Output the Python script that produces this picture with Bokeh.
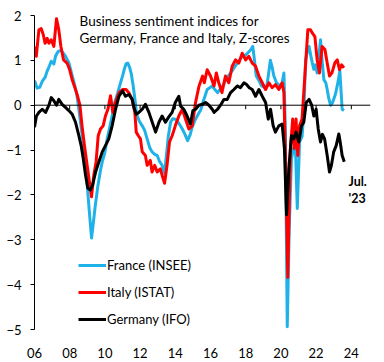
from bokeh.plotting import figure
from bokeh.models import Range1d, FixedTicker, Span, Label, Legend, LegendItem
from bokeh.embed import file_html
from bokeh.resources import INLINE

# ---- data (decimal years, z-scores) ----
fr_x = [2006.0, 2006.15, 2006.3, 2006.45, 2006.6, 2006.72, 2006.85, 2006.95, 2007.1, 2007.2, 2007.35, 2007.5,
        2007.6, 2007.75, 2007.95, 2008.1, 2008.25, 2008.4, 2008.52, 2008.62, 2008.72, 2008.85, 2008.95, 2009.1,
        2009.24, 2009.35, 2009.45, 2009.6, 2009.75, 2009.85, 2010.0, 2010.13, 2010.27, 2010.41, 2010.55, 2010.73,
        2010.85, 2011.0, 2011.1, 2011.2, 2011.3, 2011.4, 2011.5, 2011.6, 2011.7, 2011.8, 2011.95, 2012.12,
        2012.25, 2012.4, 2012.55, 2012.68, 2012.85, 2012.97, 2013.1, 2013.25, 2013.39, 2013.5, 2013.6, 2013.73,
        2013.85, 2014.0, 2014.2, 2014.4, 2014.55, 2014.7, 2014.85, 2014.95, 2015.1, 2015.3, 2015.45, 2015.6,
        2015.81, 2016.0, 2016.1, 2016.25, 2016.4, 2016.55, 2016.7, 2016.85, 2017.0, 2017.2, 2017.4, 2017.6,
        2017.8, 2018.0, 2018.1, 2018.25, 2018.4, 2018.5, 2018.6, 2018.75, 2018.9, 2019.05, 2019.2, 2019.3,
        2019.4, 2019.5, 2019.6, 2019.75, 2019.95, 2020.05, 2020.17, 2020.25, 2020.36, 2020.47, 2020.6, 2020.72,
        2020.83, 2020.93, 2021.06, 2021.2, 2021.3, 2021.4, 2021.5, 2021.6, 2021.7, 2021.78, 2021.87, 2021.95,
        2022.06, 2022.15, 2022.25, 2022.35, 2022.44, 2022.55, 2022.63, 2022.72, 2022.82, 2022.92, 2023.0, 2023.1,
        2023.2, 2023.28, 2023.35, 2023.42, 2023.48, 2023.58]
fr_y = [0.55, 0.38, 0.40, 0.54, 0.62, 0.76, 0.88, 0.98, 0.92, 1.10, 1.20, 1.22,
        1.18, 1.10, 0.95, 0.72, 0.50, 0.25, -0.09, -0.40, -0.70, -1.10, -1.55, -2.30,
        -2.96, -2.60, -2.25, -1.80, -1.45, -1.26, -1.05, -0.75, -0.50, -0.24, 0.05, 0.28,
        0.45, 0.65, 0.80, 0.92, 0.94, 0.85, 0.70, 0.45, 0.15, -0.20, -0.35, -0.46,
        -0.55, -0.75, -0.95, -1.04, -1.10, -1.12, -1.25, -1.34, -1.52, -1.10, -0.70, -0.38,
        -0.30, -0.31, -0.40, -0.53, -0.65, -0.79, -0.65, -0.50, -0.35, -0.20, -0.10, 0.10,
        0.35, 0.40, 0.43, 0.35, 0.28, 0.36, 0.43, 0.55, 0.65, 0.75, 0.87, 0.98,
        1.09, 1.12, 1.16, 1.22, 1.31, 1.00, 0.65, 0.55, 0.43, 0.40, 0.43, 0.70,
        1.00, 0.85, 0.65, 0.50, 0.43, 0.45, 0.72, -0.50, -4.94, -2.80, -1.20, -0.95,
        -1.00, -2.30, -0.82, -0.70, -0.20, 1.00, 1.20, 1.31, 1.10, 0.95, 0.80, 0.90,
        0.72, 1.05, 1.46, 0.95, 0.57, 0.50, 0.35, 0.15, 0.00, 0.05, 0.13, 0.25,
        0.43, 0.60, 0.76, 0.30, -0.09, -0.12]

it_x = [2006.0, 2006.1, 2006.25, 2006.38, 2006.5, 2006.6, 2006.72, 2006.82, 2006.95, 2007.1, 2007.25, 2007.38,
        2007.5, 2007.65, 2007.85, 2008.0, 2008.14, 2008.33, 2008.42, 2008.58, 2008.7, 2008.84, 2008.99, 2009.12,
        2009.24, 2009.37, 2009.5, 2009.62, 2009.75, 2009.9, 2010.03, 2010.17, 2010.32, 2010.45, 2010.6, 2010.8,
        2011.0, 2011.2, 2011.36, 2011.55, 2011.7, 2011.78, 2011.9, 2012.02, 2012.12, 2012.3, 2012.4, 2012.58,
        2012.68, 2012.83, 2012.97, 2013.15, 2013.25, 2013.39, 2013.53, 2013.67, 2013.82, 2014.0, 2014.2, 2014.4,
        2014.58, 2014.77, 2014.96, 2015.15, 2015.35, 2015.55, 2015.65, 2015.81, 2016.0, 2016.2, 2016.33, 2016.47,
        2016.65, 2016.85, 2017.04, 2017.23, 2017.42, 2017.61, 2017.8, 2017.99, 2018.18, 2018.37, 2018.56, 2018.75,
        2018.94, 2019.13, 2019.32, 2019.5, 2019.69, 2019.88, 2020.07, 2020.17, 2020.26, 2020.39, 2020.54, 2020.67,
        2020.76, 2020.86, 2020.96, 2021.06, 2021.2, 2021.36, 2021.53, 2021.68, 2021.8, 2021.93, 2022.06, 2022.19,
        2022.34, 2022.5, 2022.63, 2022.76, 2022.9, 2023.06, 2023.2, 2023.33, 2023.45, 2023.58]
it_y = [1.31, 1.09, 1.68, 1.71, 1.57, 1.38, 1.49, 1.38, 1.46, 1.31, 1.93, 1.68,
        1.31, 1.01, 0.94, 0.79, 0.57, 0.35, 0.24, 0.00, -0.46, -0.90, -1.34, -1.71,
        -2.04, -1.56, -1.26, -0.68, -0.53, -0.46, -0.24, -0.09, 0.21, -0.16, 0.06, 0.28,
        0.35, 0.35, 0.28, 0.13, -0.16, -0.60, -0.68, -0.75, -1.04, -1.12, -1.34, -1.23,
        -1.49, -1.34, -1.49, -1.42, -1.56, -1.74, -1.34, -0.82, -0.68, -0.46, -0.24, -0.09,
        -0.31, -0.53, -0.46, 0.06, 0.43, 0.65, 0.50, 0.79, 0.65, 0.43, 0.72, 0.50,
        0.28, 0.65, 0.50, 0.87, 1.01, 0.94, 1.16, 1.01, 1.09, 0.94, 0.87, 0.65,
        0.50, 0.35, 0.50, 0.39, 0.46, 0.35, 0.50, 0.28, -1.19, -3.84, -0.97, -0.31,
        -0.97, -0.31, -1.12, -0.46, -0.31, 0.65, 1.68, 1.68, 1.60, 1.53, 1.01, 0.72,
        1.31, 1.24, 0.94, 0.65, 0.72, 0.94, 1.01, 0.79, 0.90, 0.83]

de_x = [2006.0, 2006.11, 2006.25, 2006.44, 2006.63, 2006.82, 2006.95, 2007.1, 2007.25, 2007.38, 2007.57, 2007.76,
        2007.95, 2008.14, 2008.33, 2008.52, 2008.65, 2008.77, 2008.9, 2009.03, 2009.18, 2009.3, 2009.47, 2009.66,
        2009.85, 2010.03, 2010.22, 2010.41, 2010.6, 2010.8, 2011.0, 2011.17, 2011.36, 2011.55, 2011.65, 2011.78,
        2011.93, 2012.12, 2012.3, 2012.5, 2012.69, 2012.88, 2013.07, 2013.25, 2013.44, 2013.63, 2013.82, 2014.0,
        2014.2, 2014.3, 2014.48, 2014.67, 2014.86, 2015.0, 2015.15, 2015.34, 2015.53, 2015.72, 2015.91, 2016.1,
        2016.2, 2016.4, 2016.57, 2016.76, 2016.95, 2017.14, 2017.33, 2017.52, 2017.7, 2017.9, 2018.05, 2018.2,
        2018.37, 2018.56, 2018.75, 2018.94, 2019.13, 2019.28, 2019.41, 2019.56, 2019.69, 2019.88, 2020.07, 2020.2,
        2020.32, 2020.45, 2020.6, 2020.73, 2020.86, 2021.02, 2021.17, 2021.3, 2021.44, 2021.6, 2021.75, 2021.87,
        2022.0, 2022.12, 2022.25, 2022.36, 2022.48, 2022.63, 2022.76, 2022.87, 2023.0, 2023.14, 2023.29, 2023.38,
        2023.48, 2023.6]
de_y = [-0.49, -0.24, -0.16, -0.09, -0.16, 0.00, 0.17, 0.10, 0.00, 0.13, 0.02, -0.05,
        -0.12, -0.20, -0.38, -0.68, -0.90, -1.19, -1.56, -1.85, -1.89, -1.78, -1.49, -1.26,
        -1.04, -0.90, -0.75, -0.46, -0.10, 0.20, 0.32, 0.20, 0.24, 0.13, -0.05, -0.20,
        -0.16, -0.09, 0.02, -0.16, -0.38, -0.60, -0.38, -0.24, -0.38, -0.26, -0.16, 0.06,
        0.20, -0.02, -0.09, -0.24, -0.42, -0.12, -0.09, 0.00, 0.02, 0.06, 0.00, -0.09,
        -0.16, -0.09, 0.00, 0.13, 0.13, 0.28, 0.35, 0.43, 0.39, 0.50, 0.46, 0.39,
        0.35, 0.20, 0.35, 0.20, 0.06, -0.31, -0.09, -0.46, -0.60, -0.46, -0.42, -0.97,
        -2.44, -1.41, -0.68, -0.75, -0.60, -0.82, -0.46, -0.38, 0.06, 0.13, 0.00, -0.24,
        -0.09, -0.53, -0.82, -0.65, -0.75, -1.12, -1.49, -1.34, -1.04, -0.90, -0.64, -0.85,
        -1.12, -1.26]

series_names = ["France (INSEE)", "Italy (ISTAT)", "Germany (IFO)"]
x_ticks = [2006, 2008, 2010, 2012, 2014, 2016, 2018, 2020, 2022, 2024]
x_tick_labels = ["06", "08", "10", "12", "14", "16", "18", "20", "22", "24"]
y_ticks = [-5, -4, -3, -2, -1, 0, 1, 2]
title_lines = ["Business sentiment indices for", "Germany, France and Italy, Z-scores"]
note_lines = ["Jul.", "'23"]

FONT = "Lato"
colors = ["#1FB2E8", "#FF0000", "#000000"]

# Bokeh's page template has no body margin, so the borders carry the offsets
p = figure(width=376, height=360, output_backend="svg", toolbar_location=None,
           x_range=Range1d(2006, 2025.09), y_range=Range1d(-5, 2),
           min_border_left=34, min_border_right=6, min_border_top=15, min_border_bottom=28)
p.outline_line_color = None
p.grid.visible = False
p.background_fill_color = "white"

# x axis: labels only, at the bottom
xa = p.xaxis[0]
xa.ticker = FixedTicker(ticks=x_ticks)
xa.major_label_overrides = {t: l for t, l in zip(x_ticks, x_tick_labels)}
xa.axis_line_color = None
xa.major_tick_line_color = None
xa.minor_tick_line_color = None
xa.major_label_standoff = 12
xa.major_label_text_font = FONT
xa.major_label_text_font_size = "13px"
xa.major_label_text_color = "black"

ya = p.yaxis[0]
ya.ticker = FixedTicker(ticks=y_ticks)
ya.axis_line_color = "black"
ya.axis_line_width = 1
ya.major_tick_line_color = "black"
ya.major_tick_out = 4
ya.major_tick_in = 0
ya.minor_tick_line_color = None
ya.major_label_standoff = 9
ya.major_label_text_font = FONT
ya.major_label_text_font_size = "13px"
ya.major_label_text_color = "black"

# zero line with tick marks
p.add_layout(Span(location=0, dimension="width", line_color="black", line_width=1))
p.segment(x0=x_ticks, y0=[0] * len(x_ticks), x1=x_ticks, y1=[-0.09] * len(x_ticks),
          line_color="black", line_width=1)

rs = []
for xs, ys, c in zip([fr_x, it_x, de_x], [fr_y, it_y, de_y], colors):
    rs.append(p.line(xs, ys, line_color=c, line_width=3, line_join="round"))

legend = Legend(items=[LegendItem(label=n, renderers=[r]) for n, r in zip(series_names, rs)],
                location=(44, 0), orientation="vertical")
legend.border_line_color = None
legend.background_fill_alpha = 0
legend.padding = 0
legend.margin = 0
legend.spacing = 7
legend.glyph_width = 28
legend.glyph_height = 20
legend.label_height = 20
legend.label_standoff = 1
legend.label_text_font = FONT
legend.label_text_font_size = "13px"
legend.label_text_color = "black"
p.add_layout(legend)

for txt, yv in zip(title_lines, [1.883, 1.494]):
    p.add_layout(Label(x=2008.56, y=yv, text=txt, text_font=FONT, text_font_size="13.5px",
                       text_color="black", text_baseline="alphabetic"))
for txt, yv in zip(note_lines, [-1.70, -2.075]):
    p.add_layout(Label(x=2023.84, y=yv, text=txt, text_font=FONT, text_font_size="12.5px",
                       text_font_style="bold", text_color="black", text_baseline="alphabetic"))

open("out.html", "w").write(file_html(p, INLINE))
